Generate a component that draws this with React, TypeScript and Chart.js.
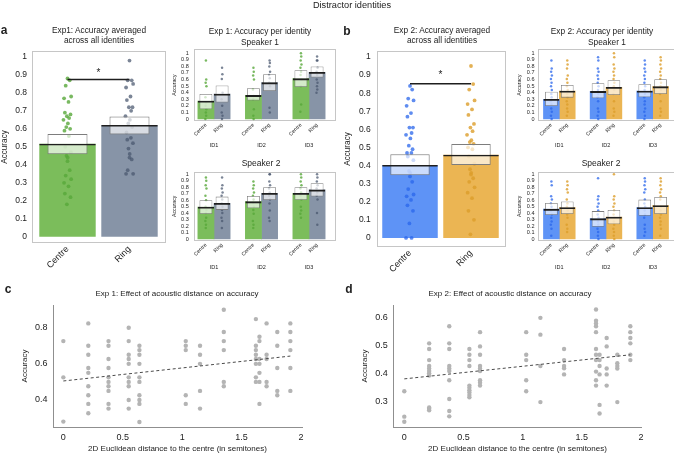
import React, { useEffect, useRef } from 'react';
import { Chart, registerables } from 'chart.js';

Chart.register(...registerables);

const FONT = '"Liberation Sans", Arial, Helvetica, sans-serif';

// ---------------- data ----------------
const GROUPS = ['Centre', 'Ring'];
const ID_LABELS = ['ID1', 'ID2', 'ID3'];
const ACC_TICKS = [0, 0.1, 0.2, 0.3, 0.4, 0.5, 0.6, 0.7, 0.8, 0.9, 1];
const DIST_TICKS = [0, 0.5, 1, 1.5, 2];
const C_Y_TICKS = [0.4, 0.6, 0.8];
const D_Y_TICKS = [0.3, 0.4, 0.5, 0.6];

// Exp 1, averaged
const EXP1_MEAN = [0.517, 0.621];
const EXP1_CI_LOW = [0.459, 0.569];
const EXP1_CI_HIGH = [0.571, 0.669];
const EXP1_CENTRE_ACC = [0.88, 0.87, 0.84, 0.78, 0.77, 0.75, 0.69, 0.68, 0.67, 0.66, 0.65, 0.63, 0.61, 0.6, 0.59, 0.56, 0.5, 0.47, 0.45, 0.44, 0.42, 0.37, 0.34, 0.32, 0.3, 0.28, 0.24, 0.22, 0.18];
const EXP1_RING_ACC = [0.98, 0.87, 0.87, 0.85, 0.83, 0.78, 0.76, 0.72, 0.72, 0.7, 0.67, 0.65, 0.63, 0.61, 0.58, 0.55, 0.54, 0.52, 0.49, 0.46, 0.44, 0.43, 0.37, 0.35, 0.35];
const EXP1_SIG_Y = 0.874;
const EXP1_STAR_Y = 0.91;

// Exp 2, averaged
const EXP2_MEAN = [0.403, 0.46];
const EXP2_CI_LOW = [0.347, 0.403];
const EXP2_CI_HIGH = [0.462, 0.519];
const EXP2_CENTRE_ACC = [0.84, 0.82, 0.77, 0.76, 0.73, 0.69, 0.67, 0.61, 0.61, 0.58, 0.57, 0.55, 0.51, 0.49, 0.47, 0.47, 0.45, 0.43, 0.37, 0.36, 0.34, 0.31, 0.27, 0.24, 0.23, 0.21, 0.18, 0.15, 0.08, 0, 0];
const EXP2_RING_ACC = [0.95, 0.85, 0.82, 0.76, 0.74, 0.71, 0.68, 0.63, 0.61, 0.59, 0.57, 0.54, 0.53, 0.52, 0.5, 0.49, 0.45, 0.41, 0.38, 0.36, 0.35, 0.33, 0.31, 0.28, 0.25, 0.22, 0.15, 0.1, 0.02];
const EXP2_SIG_Y = 0.852;
const EXP2_STAR_Y = 0.9;

// Exp 1, per identity, speaker 1
const E1S1_CENTRE_MEAN = [0.274, 0.36, 0.614];
const E1S1_CENTRE_LOW = [0.147, 0.28, 0.487];
const E1S1_CENTRE_HIGH = [0.38, 0.467, 0.741];
const E1S1_RING_MEAN = [0.38, 0.553, 0.71];
const E1S1_RING_LOW = [0.25, 0.426, 0.63];
const E1S1_RING_HIGH = [0.51, 0.68, 0.8];
const E1S1_CENTRE_ACC = [
  [0.89, 0.6, 0.55, 0.5, 0.33, 0.25, 0.2, 0.15, 0.1, 0.05, 0],
  [0.78, 0.72, 0.66, 0.6, 0.45, 0.35, 0.3, 0.15, 0.05, 0],
  [1.0, 0.95, 0.89, 0.83, 0.78, 0.72, 0.67, 0.6, 0.5, 0.22, 0.11],
];
const E1S1_RING_ACC = [
  [0.78, 0.68, 0.61, 0.4, 0.3, 0.2, 0.1, 0.05, 0],
  [0.89, 0.85, 0.8, 0.72, 0.67, 0.62, 0.55, 0.5, 0.17, 0.1],
  [0.95, 0.89, 0.89, 0.78, 0.72, 0.67, 0.6, 0.55, 0.5, 0.45, 0.4],
];

// Exp 1, per identity, speaker 2
const E1S2_CENTRE_MEAN = [0.495, 0.577, 0.706];
const E1S2_CENTRE_LOW = [0.387, 0.474, 0.603];
const E1S2_CENTRE_HIGH = [0.6, 0.665, 0.8];
const E1S2_RING_MEAN = [0.552, 0.706, 0.758];
const E1S2_RING_LOW = [0.45, 0.603, 0.655];
const E1S2_RING_HIGH = [0.655, 0.8, 0.861];
const E1S2_CENTRE_ACC = [
  [0.95, 0.9, 0.83, 0.78, 0.67, 0.6, 0.5, 0.45, 0.4, 0.33, 0.28, 0.22, 0.17],
  [0.89, 0.83, 0.78, 0.72, 0.67, 0.61, 0.56, 0.5, 0.45, 0.39, 0.28, 0.22, 0.17],
  [1.0, 0.95, 0.89, 0.83, 0.78, 0.72, 0.67, 0.61, 0.5, 0.44, 0.39, 0.33],
];
const E1S2_RING_ACC = [
  [0.95, 0.83, 0.78, 0.72, 0.67, 0.61, 0.55, 0.5, 0.45, 0.4, 0.33, 0.28, 0.17],
  [1.0, 1.0, 0.89, 0.83, 0.78, 0.72, 0.67, 0.61, 0.55, 0.44, 0.33, 0.28],
  [1.0, 0.95, 0.89, 0.83, 0.78, 0.72, 0.67, 0.61, 0.4, 0.22],
];

// Exp 2, per identity, speaker 1
const E2S1_CENTRE_MEAN = [0.3, 0.42, 0.426];
const E2S1_CENTRE_LOW = [0.198, 0.315, 0.33];
const E2S1_CENTRE_HIGH = [0.416, 0.543, 0.528];
const E2S1_RING_MEAN = [0.426, 0.482, 0.492];
const E2S1_RING_LOW = [0.325, 0.365, 0.38];
const E2S1_RING_HIGH = [0.518, 0.589, 0.604];
const E2S1_CENTRE_ACC = [
  [0.89, 0.77, 0.72, 0.66, 0.61, 0.55, 0.5, 0.44, 0.38, 0.33, 0.27, 0.22, 0.16, 0.11, 0.05, 0],
  [0.94, 0.89, 0.77, 0.72, 0.66, 0.61, 0.55, 0.5, 0.44, 0.38, 0.33, 0.27, 0.16, 0.11, 0.05, 0],
  [0.89, 0.83, 0.77, 0.72, 0.66, 0.61, 0.55, 0.5, 0.44, 0.38, 0.33, 0.27, 0.22, 0.16, 0.11, 0.05, 0],
];
const E2S1_RING_ACC = [
  [0.89, 0.83, 0.77, 0.66, 0.61, 0.55, 0.5, 0.44, 0.38, 0.33, 0.27, 0.22, 0.16, 0.11, 0.05],
  [1.0, 0.94, 0.83, 0.77, 0.72, 0.66, 0.61, 0.55, 0.5, 0.44, 0.38, 0.27, 0.16, 0.11, 0.05],
  [0.94, 0.89, 0.83, 0.77, 0.72, 0.66, 0.61, 0.55, 0.5, 0.44, 0.38, 0.27, 0.16, 0.11, 0.05],
];

// Exp 2, per identity, speaker 2
const E2S2_CENTRE_MEAN = [0.462, 0.315, 0.487];
const E2S2_CENTRE_LOW = [0.37, 0.188, 0.36];
const E2S2_CENTRE_HIGH = [0.558, 0.431, 0.609];
const E2S2_RING_MEAN = [0.487, 0.34, 0.518];
const E2S2_RING_LOW = [0.386, 0.228, 0.386];
const E2S2_RING_HIGH = [0.579, 0.447, 0.65];
const E2S2_CENTRE_ACC = [
  [0.89, 0.83, 0.66, 0.61, 0.55, 0.5, 0.44, 0.38, 0.33, 0.27, 0.22, 0.16, 0.05],
  [0.94, 0.66, 0.61, 0.55, 0.5, 0.44, 0.38, 0.33, 0.27, 0.22, 0.16, 0.11, 0.05, 0],
  [0.94, 0.89, 0.83, 0.77, 0.72, 0.61, 0.55, 0.5, 0.44, 0.38, 0.33, 0.22, 0.16, 0.11, 0.05],
];
const E2S2_RING_ACC = [
  [0.89, 0.83, 0.77, 0.72, 0.61, 0.55, 0.5, 0.44, 0.38, 0.33, 0.22, 0.16, 0.11],
  [1.0, 0.66, 0.61, 0.55, 0.5, 0.44, 0.38, 0.33, 0.27, 0.22, 0.16, 0.11, 0.05, 0],
  [0.94, 0.89, 0.83, 0.77, 0.72, 0.66, 0.61, 0.5, 0.44, 0.38, 0.33, 0.27, 0.22, 0.16, 0.05],
];

// Effect of acoustic distance (c: Exp 1, d: Exp 2)
const DISTANCES = [0, 0.21, 0.38, 0.55, 0.64, 1.03, 1.15, 1.35, 1.62, 1.65, 1.71, 1.8, 1.91];
const C_ACC = [
  [0.726, 0.525, 0.28],
  [0.824, 0.7, 0.65, 0.577, 0.55, 0.476, 0.426, 0.378, 0.326],
  [0.726, 0.7, 0.627, 0.577, 0.525, 0.5, 0.476, 0.45, 0.378, 0.352],
  [0.8, 0.726, 0.65, 0.627, 0.6, 0.525, 0.5, 0.476, 0.4, 0.352],
  [0.7, 0.676, 0.65, 0.6, 0.525, 0.5, 0.426, 0.4, 0.378, 0.278],
  [0.726, 0.7, 0.676, 0.426, 0.378],
  [0.7, 0.65, 0.6, 0.45, 0.352],
  [0.9, 0.776, 0.726, 0.676, 0.5, 0.476],
  [0.848, 0.7, 0.676, 0.65, 0.627, 0.6, 0.525, 0.5],
  [0.75, 0.726, 0.627, 0.6, 0.55, 0.5, 0.378],
  [0.824, 0.65, 0.627, 0.5, 0.476],
  [0.776, 0.7, 0.577, 0.45, 0.426],
  [0.824, 0.776, 0.726, 0.676, 0.577, 0.45],
];
const D_ACC = [
  [0.338, 0.247, 0.229],
  [0.509, 0.489, 0.449, 0.428, 0.419, 0.41, 0.402, 0.394, 0.28, 0.275, 0.27],
  [0.57, 0.509, 0.489, 0.428, 0.419, 0.41, 0.377, 0.31, 0.267, 0.248],
  [0.489, 0.468, 0.449, 0.428, 0.358, 0.35, 0.341, 0.333, 0.324, 0.316],
  [0.549, 0.498, 0.468, 0.428, 0.419, 0.41, 0.377, 0.368, 0.358],
  [0.549, 0.468, 0.449, 0.377, 0.338],
  [0.6, 0.54, 0.428, 0.299],
  [0.489, 0.449, 0.428, 0.42, 0.398],
  [0.63, 0.59, 0.58, 0.57, 0.549, 0.489, 0.468, 0.449, 0.408, 0.377, 0.358],
  [0.468, 0.449, 0.428, 0.398, 0.289, 0.258],
  [0.528, 0.498, 0.419, 0.398, 0.358],
  [0.468, 0.438, 0.428, 0.419, 0.299],
  [0.57, 0.549, 0.528, 0.509, 0.468, 0.449],
];
const FIT_X = [0, 1.91];
const C_FIT_Y = [0.505, 0.643];
const D_FIT_Y = [0.382, 0.468];

// ---------------- styles ----------------
const GREEN = '#7bbd5b';
const SLATE = '#8794a7';
const BLUE = '#5e93f6';
const ORANGE = '#ebb553';
const GREEN_DOT = 'rgba(88,168,58,0.8)';
const SLATE_DOT = 'rgba(72,86,110,0.72)';
const BLUE_DOT = 'rgba(42,102,235,0.75)';
const ORANGE_DOT = 'rgba(220,158,42,0.8)';
const JITTER = [0, 0.55, -0.45, 0.9, -0.85, 0.25, -0.65, 0.75, -0.15, 0.4, -1, 0.1, -0.3, 0.65, -0.75, 0.35, -0.55, 0.85, -0.25, 0.05];

function jitterPoints(values: number[], center: number, amp: number) {
  return values.map((v, i) => ({ x: center + JITTER[i % JITTER.length] * amp, y: v }));
}

const framePlugin = {
  id: 'frame',
  beforeDatasetsDraw(chart: any, _a: any, opts: any) {
    if (!opts || !opts.show) return;
    const { ctx, chartArea: a } = chart;
    ctx.save();
    ctx.strokeStyle = opts.color || '#c8c8c8';
    ctx.lineWidth = 1;
    const l = Math.round(a.left + (opts.l || 0)) + 0.5;
    const r = Math.round(a.right + (opts.r || 0)) - 0.5;
    const t = Math.round(a.top) + 0.5;
    const b = Math.round(a.bottom) - 0.5;
    ctx.strokeRect(l, t, r - l, b - t);
    ctx.restore();
  },
};

const markPlugin = {
  id: 'mark',
  afterDatasetsDraw(chart: any, _a: any, opts: any) {
    if (!opts || !opts.text) return;
    const xs = chart.scales[opts.xAxis];
    const ys = chart.scales.y;
    const ctx = chart.ctx;
    ctx.save();
    ctx.fillStyle = '#222';
    ctx.font = `${opts.size || 9}px ${FONT}`;
    ctx.textAlign = 'center';
    ctx.textBaseline = 'middle';
    ctx.fillText(opts.text, xs.getPixelForValue(opts.x), ys.getPixelForValue(opts.y));
    ctx.restore();
  },
};

Chart.register(framePlugin as any, markPlugin as any);

const noGrid = { display: false, drawTicks: false };
const noBorder = { display: false };
function zeroPad(s: any) {
  s.paddingLeft = 0;
  s.paddingRight = 0;
  s.paddingTop = 0;
  s.paddingBottom = 0;
}

type MainP = {
  mean: number[]; low: number[]; high: number[]; centre: number[]; ring: number[];
  sigY: number; starY: number; barColors: string[]; dotColors: string[];
  yMin: number; yMax: number; padTop: number; padRight: number; yWidth: number; xHeight: number;
  tickPad: number; titlePad: number; boxL: number; boxR: number;
};

function mainConfig(p: MainP): any {
  const cp = 0.91;
  const common = { xAxisID: 'x', yAxisID: 'y', grouped: false, categoryPercentage: cp, borderSkipped: false };
  return {
    type: 'bar',
    data: {
      labels: GROUPS,
      datasets: [
        { ...common, type: 'bar', data: p.mean, backgroundColor: 'rgba(0,0,0,0)', borderColor: '#1e1e1e', borderWidth: { top: 1.5, right: 0, bottom: 0, left: 0 }, barPercentage: 1, order: 0 },
        { type: 'line', xAxisID: 'xj', yAxisID: 'y', data: [{ x: 0, y: p.sigY }, { x: GROUPS.length - 1, y: p.sigY }], borderColor: '#1e1e1e', borderWidth: 1.5, pointRadius: 0, order: 0 },
        { ...common, type: 'bar', data: p.low.map((l, i) => [l, p.high[i]]), backgroundColor: 'rgba(255,255,255,0.68)', borderColor: '#7d7d7d', borderWidth: 1, barPercentage: 0.71, order: 1 },
        { type: 'scatter', xAxisID: 'xj', yAxisID: 'y', data: jitterPoints(p.centre, 0, 0.065), backgroundColor: p.dotColors[0], borderWidth: 0, pointRadius: 1.9, order: 2 },
        { type: 'scatter', xAxisID: 'xj', yAxisID: 'y', data: jitterPoints(p.ring, 1, 0.065), backgroundColor: p.dotColors[1], borderWidth: 0, pointRadius: 1.9, order: 2 },
        { ...common, type: 'bar', data: p.mean, backgroundColor: p.barColors, borderWidth: 0, barPercentage: 1, order: 3 },
      ],
    },
    options: {
      animation: false,
      responsive: false,
      events: [],
      layout: { padding: { top: p.padTop, right: p.padRight, left: 0, bottom: 0 } },
      plugins: {
        legend: { display: false },
        tooltip: { enabled: false },
        frame: { show: true, l: p.boxL, r: p.boxR, color: '#c6c6c6' },
        mark: { text: '*', xAxis: 'xj', x: 0.5, y: p.starY, size: 10 },
      },
      scales: {
        x: {
          type: 'category', offset: true, position: 'bottom', grid: noGrid, border: noBorder,
          ticks: { font: { family: FONT, size: 9 }, color: '#222', minRotation: 45, maxRotation: 45, padding: 1, autoSkip: false },
          afterFit: (s: any) => { zeroPad(s); s.height = p.xHeight; },
        },
        xj: { type: 'linear', display: false, min: -0.5, max: GROUPS.length - 0.5, offset: false, afterFit: (s: any) => zeroPad(s) },
        y: {
          type: 'linear', min: p.yMin, max: p.yMax, stacked: false, grid: noGrid, border: noBorder,
          afterBuildTicks: (s: any) => { s.ticks = ACC_TICKS.map((v) => ({ value: v })); },
          ticks: { font: { family: FONT, size: 8.5 }, color: '#222', padding: p.tickPad, autoSkip: false, callback: (v: any) => String(v) },
          title: { display: true, text: 'Accuracy', font: { family: FONT, size: 8.2 }, color: '#222', padding: { top: p.titlePad, bottom: 0 } },
          afterFit: (s: any) => { zeroPad(s); s.width = p.yWidth; },
        },
      },
    },
  };
}

type SmallP = {
  cMean: number[]; cLow: number[]; cHigh: number[]; rMean: number[]; rLow: number[]; rHigh: number[];
  cAcc: number[][]; rAcc: number[][]; barColors: string[]; dotColors: string[];
  yMin: number; yMax: number; padTop: number; padRight: number; yWidth: number;
  xjHeight: number; xHeight: number; idPad: number; boxL: number; boxR: number;
};

function smallConfig(p: SmallP): any {
  // Each ID slot holds a pair of adjacent bars (Centre, Ring) on a linear x axis.
  const pairWidth = 0.68;
  const off = pairWidth / 4;
  const cX = ID_LABELS.map((_, i) => i - off);
  const rX = ID_LABELS.map((_, i) => i + off);
  const tickPos = ID_LABELS.flatMap((_, i) => [cX[i], rX[i]]);
  const tickText = ID_LABELS.flatMap(() => GROUPS);
  const common = { xAxisID: 'xj', yAxisID: 'y', grouped: false, categoryPercentage: 1, borderSkipped: false };
  const lineStyle = { backgroundColor: 'rgba(0,0,0,0)', borderColor: '#1e1e1e', borderWidth: { top: 1.2, right: 0, bottom: 0, left: 0 }, barPercentage: 1, order: 0 };
  const ciStyle = { backgroundColor: 'rgba(255,255,255,0.68)', borderColor: '#7d7d7d', borderWidth: 0.8, barPercentage: 0.8, order: 1 };
  const pts = (xs: number[], ys: number[]) => xs.map((x, i) => ({ x, y: ys[i] }));
  const ranges = (xs: number[], lo: number[], hi: number[]) => xs.map((x, i) => ({ x, y: [lo[i], hi[i]] }));
  return {
    type: 'bar',
    data: {
      labels: ID_LABELS,
      datasets: [
        { ...common, ...lineStyle, type: 'bar', data: pts(cX, p.cMean) },
        { ...common, ...lineStyle, type: 'bar', data: pts(rX, p.rMean) },
        { ...common, ...ciStyle, type: 'bar', data: ranges(cX, p.cLow, p.cHigh) },
        { ...common, ...ciStyle, type: 'bar', data: ranges(rX, p.rLow, p.rHigh) },
        { type: 'scatter', xAxisID: 'xj', yAxisID: 'y', data: p.cAcc.flatMap((vals, i) => jitterPoints(vals, cX[i], 0.012)), backgroundColor: p.dotColors[0], borderWidth: 0, pointRadius: 1.25, order: 2 },
        { type: 'scatter', xAxisID: 'xj', yAxisID: 'y', data: p.rAcc.flatMap((vals, i) => jitterPoints(vals, rX[i], 0.012)), backgroundColor: p.dotColors[1], borderWidth: 0, pointRadius: 1.25, order: 2 },
        { ...common, type: 'bar', data: pts(cX, p.cMean), backgroundColor: p.barColors[0], borderWidth: 0, barPercentage: 1, order: 3 },
        { ...common, type: 'bar', data: pts(rX, p.rMean), backgroundColor: p.barColors[1], borderWidth: 0, barPercentage: 1, order: 3 },
      ],
    },
    options: {
      animation: false,
      responsive: false,
      events: [],
      layout: { padding: { top: p.padTop, right: p.padRight, left: 0, bottom: 0 } },
      plugins: {
        legend: { display: false },
        tooltip: { enabled: false },
        frame: { show: true, l: p.boxL, r: p.boxR, color: '#c6c6c6' },
      },
      scales: {
        x: {
          type: 'category', offset: true, position: 'bottom', weight: 2, grid: noGrid, border: noBorder,
          ticks: { font: { family: FONT, size: 5.5 }, color: '#222', minRotation: 0, maxRotation: 0, padding: p.idPad, autoSkip: false },
          afterFit: (s: any) => { zeroPad(s); s.height = p.xHeight; },
        },
        xj: {
          type: 'linear', position: 'bottom', weight: 1, min: -0.5, max: ID_LABELS.length - 0.5, offset: false, grid: noGrid, border: noBorder,
          afterBuildTicks: (s: any) => { s.ticks = tickPos.map((v) => ({ value: v })); },
          ticks: { font: { family: FONT, size: 5.2 }, color: '#222', minRotation: 45, maxRotation: 45, padding: 1, autoSkip: false, callback: (_v: any, i: number) => tickText[i] },
          afterFit: (s: any) => { zeroPad(s); s.height = p.xjHeight; },
        },
        y: {
          type: 'linear', min: p.yMin, max: p.yMax, stacked: false, grid: noGrid, border: noBorder,
          afterBuildTicks: (s: any) => { s.ticks = ACC_TICKS.map((v) => ({ value: v })); },
          ticks: { font: { family: FONT, size: 5.5 }, color: '#222', padding: 1.5, autoSkip: false, callback: (v: any) => String(v) },
          title: { display: true, text: 'Accuracy', font: { family: FONT, size: 5.2 }, color: '#222', padding: { top: 1.7, bottom: 0 } },
          afterFit: (s: any) => { zeroPad(s); s.width = p.yWidth; },
        },
      },
    },
  };
}

type ScatterP = {
  acc: number[][]; fitY: number[]; xMin: number; xMax: number; yMin: number; yMax: number;
  yTicks: number[]; padRight: number; yWidth: number;
};

function scatterConfig(p: ScatterP): any {
  const pts = DISTANCES.flatMap((d, i) => p.acc[i].map((a) => ({ x: d, y: a })));
  const axisBorder = { display: true, color: '#8f8f8f', width: 1 };
  return {
    type: 'scatter',
    data: {
      datasets: [
        { type: 'line', data: FIT_X.map((x, i) => ({ x, y: p.fitY[i] })), borderColor: '#4a4a4a', borderWidth: 1, borderDash: [3, 2.5], pointRadius: 0, order: 0 },
        { type: 'scatter', data: pts, backgroundColor: '#b4b4b4', borderWidth: 0, pointRadius: 2.2, order: 1 },
      ],
    },
    options: {
      animation: false,
      responsive: false,
      events: [],
      layout: { padding: { top: 5, right: p.padRight, left: 0, bottom: 0 } },
      plugins: { legend: { display: false }, tooltip: { enabled: false } },
      scales: {
        x: {
          type: 'linear', min: p.xMin, max: p.xMax, grid: noGrid, border: axisBorder,
          afterBuildTicks: (s: any) => { s.ticks = DIST_TICKS.map((v) => ({ value: v })); },
          ticks: { font: { family: FONT, size: 9 }, color: '#222', padding: 5, autoSkip: false, maxRotation: 0, callback: (v: any) => String(v) },
          title: { display: true, text: '2D Euclidean distance to the centre (in semitones)', font: { family: FONT, size: 8 }, color: '#222', padding: { top: 0, bottom: 0 } },
          afterFit: (s: any) => { zeroPad(s); s.height = 27; },
        },
        y: {
          type: 'linear', min: p.yMin, max: p.yMax, grid: noGrid, border: axisBorder,
          afterBuildTicks: (s: any) => { s.ticks = p.yTicks.map((v) => ({ value: v })); },
          ticks: { font: { family: FONT, size: 9 }, color: '#222', padding: 5.5, autoSkip: false, callback: (v: any) => String(v) },
          title: { display: true, text: 'Accuracy', font: { family: FONT, size: 8 }, color: '#222', padding: { top: 20, bottom: 0 } },
          afterFit: (s: any) => { zeroPad(s); s.width = p.yWidth; },
        },
      },
    },
  };
}

function ChartBox({ left, top, width, height, make }: { left: number; top: number; width: number; height: number; make: () => any }) {
  const ref = useRef<HTMLCanvasElement | null>(null);
  useEffect(() => {
    if (!ref.current) return;
    const chart = new Chart(ref.current, make());
    return () => chart.destroy();
  }, []);
  return <canvas ref={ref} width={width} height={height} style={{ position: 'absolute', left, top, width, height }} />;
}

function Label({ x, y, size, text, bold }: { x: number; y: number; size: number; text: string; bold?: boolean }) {
  return (
    <div style={{ position: 'absolute', left: x, top: y, transform: 'translate(-50%, -50%)', willChange: 'transform', fontSize: size, fontWeight: bold ? 700 : 400, whiteSpace: 'nowrap', lineHeight: 1, color: '#222' }}>
      {text}
    </div>
  );
}

const smallA = { yWidth: 20.25, padRight: 7.25, boxL: 4, boxR: 3, barColors: [GREEN, SLATE], dotColors: [GREEN_DOT, SLATE_DOT] };
const smallB = { yWidth: 21, padRight: 1.8, boxL: 1.5, boxR: 3, barColors: [BLUE, ORANGE], dotColors: [BLUE_DOT, ORANGE_DOT] };
const smallTop = { yMin: -0.03, yMax: 1.06, padTop: 4.3, xjHeight: 18, xHeight: 14, idPad: 3 };
const smallBottom = { yMin: -0.031, yMax: 1.04, padTop: 5.7, xjHeight: 19, xHeight: 14, idPad: 4 };

export default function App() {
  return (
    <div style={{ position: 'relative', width: 674, height: 454, overflow: 'hidden', background: '#fff', fontFamily: FONT, color: '#222' }}>
      <style>{'body{margin:0;}'}</style>

      <ChartBox left={0} top={45} width={172} height={240} make={() => mainConfig({
        mean: EXP1_MEAN, low: EXP1_CI_LOW, high: EXP1_CI_HIGH, centre: EXP1_CENTRE_ACC, ring: EXP1_RING_ACC,
        sigY: EXP1_SIG_Y, starY: EXP1_STAR_Y, barColors: [GREEN, SLATE], dotColors: [GREEN_DOT, SLATE_DOT],
        yMin: -0.035, yMax: 1.033, padTop: 6, padRight: 11.5, yWidth: 36.5, xHeight: 42, tickPad: 9.5, titlePad: 0, boxL: -4.5, boxR: 5.5,
      })} />
      <ChartBox left={340} top={45} width={172} height={240} make={() => mainConfig({
        mean: EXP2_MEAN, low: EXP2_CI_LOW, high: EXP2_CI_HIGH, centre: EXP2_CENTRE_ACC, ring: EXP2_RING_ACC,
        sigY: EXP2_SIG_Y, starY: EXP2_STAR_Y, barColors: [BLUE, ORANGE], dotColors: [BLUE_DOT, ORANGE_DOT],
        yMin: -0.05, yMax: 1.033, padTop: 6, padRight: 10.5, yWidth: 39.5, xHeight: 38, tickPad: 8.8, titlePad: 2.7, boxL: -3, boxR: 4,
      })} />

      <ChartBox left={170} top={45} width={170} height={108} make={() => smallConfig({
        ...smallA, ...smallTop,
        cMean: E1S1_CENTRE_MEAN, cLow: E1S1_CENTRE_LOW, cHigh: E1S1_CENTRE_HIGH,
        rMean: E1S1_RING_MEAN, rLow: E1S1_RING_LOW, rHigh: E1S1_RING_HIGH,
        cAcc: E1S1_CENTRE_ACC, rAcc: E1S1_RING_ACC,
      })} />
      <ChartBox left={170} top={166} width={170} height={108} make={() => smallConfig({
        ...smallA, ...smallBottom,
        cMean: E1S2_CENTRE_MEAN, cLow: E1S2_CENTRE_LOW, cHigh: E1S2_CENTRE_HIGH,
        rMean: E1S2_RING_MEAN, rLow: E1S2_RING_LOW, rHigh: E1S2_RING_HIGH,
        cAcc: E1S2_CENTRE_ACC, rAcc: E1S2_RING_ACC,
      })} />
      <ChartBox left={515} top={45} width={165} height={108} make={() => smallConfig({
        ...smallB, ...smallTop,
        cMean: E2S1_CENTRE_MEAN, cLow: E2S1_CENTRE_LOW, cHigh: E2S1_CENTRE_HIGH,
        rMean: E2S1_RING_MEAN, rLow: E2S1_RING_LOW, rHigh: E2S1_RING_HIGH,
        cAcc: E2S1_CENTRE_ACC, rAcc: E2S1_RING_ACC,
      })} />
      <ChartBox left={515} top={166} width={165} height={108} make={() => smallConfig({
        ...smallB, ...smallBottom,
        cMean: E2S2_CENTRE_MEAN, cLow: E2S2_CENTRE_LOW, cHigh: E2S2_CENTRE_HIGH,
        rMean: E2S2_RING_MEAN, rLow: E2S2_RING_LOW, rHigh: E2S2_RING_HIGH,
        cAcc: E2S2_CENTRE_ACC, rAcc: E2S2_RING_ACC,
      })} />

      <ChartBox left={0} top={300} width={330} height={154} make={() => scatterConfig({
        acc: C_ACC, fitY: C_FIT_Y, xMin: -0.087, xMax: 2.008, yMin: 0.25, yMax: 0.926, yTicks: C_Y_TICKS, padRight: 28, yWidth: 53,
      })} />
      <ChartBox left={340} top={300} width={334} height={154} make={() => scatterConfig({
        acc: D_ACC, fitY: D_FIT_Y, xMin: -0.093, xMax: 2.006, yMin: 0.21, yMax: 0.646, yTicks: D_Y_TICKS, padRight: 32.3, yWidth: 53.3,
      })} />

      <Label x={352} y={6} size={9.2} text="Distractor identities" />
      <Label x={3.5} y={30} size={12} bold text="a" />
      <Label x={346.5} y={30.5} size={12} bold text="b" />
      <Label x={7.5} y={288.5} size={12} bold text="c" />
      <Label x={349} y={288.5} size={12} bold text="d" />

      <Label x={98.5} y={30} size={8.3} text="Exp1: Accuracy averaged" />
      <Label x={98.5} y={40} size={8.3} text="across all identities" />
      <Label x={260} y={31} size={8.3} text="Exp 1: Accuracy per identity" />
      <Label x={260} y={42} size={8.3} text="Speaker 1" />
      <Label x={261} y={163} size={8.5} text="Speaker 2" />

      <Label x={441.5} y={30} size={8.3} text="Exp 2: Accuracy averaged" />
      <Label x={441.5} y={40} size={8.3} text="across all identities" />
      <Label x={602} y={31} size={8.3} text="Exp 2: Accuracy per identity" />
      <Label x={607} y={42} size={8.3} text="Speaker 1" />
      <Label x={601} y={163} size={8.5} text="Speaker 2" />

      <Label x={176.7} y={294} size={8} text="Exp 1: Effect of acoustic distance on accuracy" />
      <Label x={509.5} y={294} size={8} text="Exp 2: Effect of acoustic distance on accuracy" />
    </div>
  );
}
